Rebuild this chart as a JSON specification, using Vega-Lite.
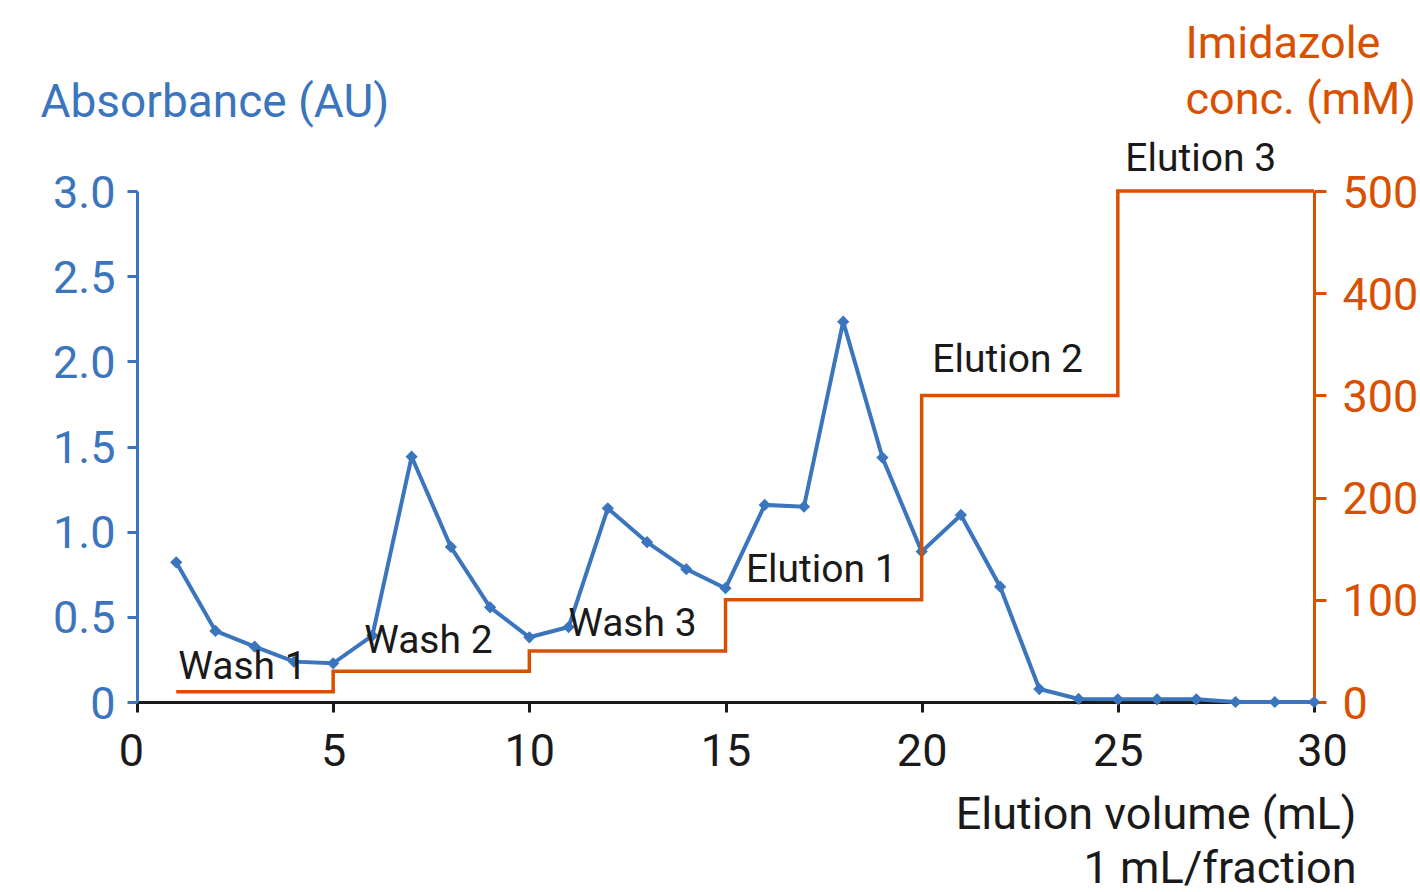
{
  "$schema": "https://vega.github.io/schema/vega-lite/v6.json",
  "width": 1177,
  "height": 511,
  "autosize": {"type": "none"},
  "padding": {"left": 137, "top": 191, "right": 106, "bottom": 190},
  "background": "white",
  "config": {
    "view": {"stroke": null},
    "font": "Roboto",
    "axis": {"grid": false, "labelFont": "Roboto", "titleFont": "Roboto", "titleFontWeight": "normal"}
  },
  "layer": [
    {
      "data": {"values": [
        {"vol": 1, "abs": 0.82}, {"vol": 2, "abs": 0.417}, {"vol": 3, "abs": 0.325},
        {"vol": 4, "abs": 0.237}, {"vol": 5, "abs": 0.227}, {"vol": 6, "abs": 0.39},
        {"vol": 7, "abs": 1.44}, {"vol": 8, "abs": 0.91}, {"vol": 9, "abs": 0.556},
        {"vol": 10, "abs": 0.38}, {"vol": 11, "abs": 0.44}, {"vol": 12, "abs": 1.137},
        {"vol": 13, "abs": 0.938}, {"vol": 14, "abs": 0.78}, {"vol": 15, "abs": 0.668},
        {"vol": 16, "abs": 1.157}, {"vol": 17, "abs": 1.147}, {"vol": 18, "abs": 2.233},
        {"vol": 19, "abs": 1.435}, {"vol": 20, "abs": 0.883}, {"vol": 21, "abs": 1.098},
        {"vol": 22, "abs": 0.677}, {"vol": 23, "abs": 0.076}, {"vol": 24, "abs": 0.018},
        {"vol": 25, "abs": 0.016}, {"vol": 26, "abs": 0.016}, {"vol": 27, "abs": 0.016},
        {"vol": 28, "abs": 0.0}, {"vol": 29, "abs": 0.0}, {"vol": 30, "abs": 0.0}
      ]},
      "mark": {"type": "line", "color": "#3b75bd", "strokeWidth": 4,
               "point": {"shape": "diamond", "size": 150, "filled": true, "color": "#3b75bd"}},
      "encoding": {
        "x": {
          "field": "vol", "type": "quantitative",
          "scale": {"domain": [0, 30], "nice": false, "zero": false},
          "axis": {
            "values": [0, 5, 10, 15, 20, 25, 30],
            "title": ["Elution volume (mL)", "1 mL/fraction"],
            "titleX": 1219, "titleY": 126, "titleAlign": "right", "titleAnchor": null,
            "titleBaseline": "alphabetic", "titleLineHeight": 54,
            "titleFontSize": 45, "titleColor": "#1a1a1a",
            "labelFontSize": 45, "labelColor": "#1a1a1a", "labelFlush": false,
            "labelOffset": {"condition": [{"test": "datum.value == 0", "value": -6}, {"test": "datum.value == 30", "value": 8}], "value": 0},
            "labelBaseline": "alphabetic", "labelPadding": 53,
            "domainColor": "#1a1a1a", "domainWidth": 3,
            "tickColor": "#1a1a1a", "tickWidth": 3, "tickSize": 10
          }
        },
        "y": {
          "field": "abs", "type": "quantitative",
          "scale": {"domain": [0, 3], "nice": false},
          "axis": {
            "orient": "left",
            "values": [0, 0.5, 1, 1.5, 2, 2.5, 3],
            "labelExpr": "datum.value == 0 ? '0' : format(datum.value, '.1f')",
            "title": "Absorbance (AU)",
            "titleAngle": 0, "titleX": -97, "titleY": -75, "titleAlign": "left",
            "titleAnchor": null, "titleBaseline": "alphabetic",
            "titleFontSize": 46, "titleColor": "#3b75bd",
            "labelFontSize": 45, "labelColor": "#3b75bd",
            "labelBaseline": "alphabetic", "labelOffset": 16, "labelPadding": 12,
            "domainColor": "#3b75bd", "domainWidth": 3,
            "tickColor": "#3b75bd", "tickWidth": 3, "tickSize": 10
          }
        }
      }
    },
    {
      "data": {"values": [
        {"vol": 1, "imid": 10}, {"vol": 5, "imid": 30}, {"vol": 10, "imid": 50},
        {"vol": 15, "imid": 100}, {"vol": 20, "imid": 300}, {"vol": 25, "imid": 500},
        {"vol": 30, "imid": 500}
      ]},
      "mark": {"type": "line", "interpolate": "step-after", "color": "#d95000", "strokeWidth": 3.5},
      "encoding": {
        "x": {"field": "vol", "type": "quantitative"},
        "y": {
          "field": "imid", "type": "quantitative",
          "scale": {"domain": [0, 500], "nice": false},
          "axis": {
            "orient": "right",
            "values": [0, 100, 200, 300, 400, 500],
            "title": ["Imidazole", "conc. (mM)"],
            "titleAngle": 0, "titleX": -129, "titleY": -134, "titleAlign": "left",
            "titleAnchor": null, "titleBaseline": "alphabetic", "titleLineHeight": 56,
            "titleFontSize": 45, "titleColor": "#d95000",
            "labelFontSize": 45, "labelColor": "#d95000",
            "labelBaseline": "alphabetic", "labelOffset": 16, "labelPadding": 16,
            "domainColor": "#d95000", "domainWidth": 3,
            "tickColor": "#d95000", "tickWidth": 3, "tickSize": 12
          }
        }
      }
    },
    {
      "data": {"values": [
        {"vol": 1.05, "pos": 0.135, "label": "Wash 1"},
        {"vol": 5.79, "pos": 0.29, "label": "Wash 2"},
        {"vol": 10.99, "pos": 0.39, "label": "Wash 3"},
        {"vol": 15.52, "pos": 0.705, "label": "Elution 1"},
        {"vol": 20.27, "pos": 1.94, "label": "Elution 2"},
        {"vol": 25.19, "pos": 3.12, "label": "Elution 3"}
      ]},
      "mark": {"type": "text", "align": "left", "baseline": "alphabetic", "fontSize": 39, "color": "#1a1a1a", "font": "Roboto"},
      "encoding": {
        "x": {"field": "vol", "type": "quantitative"},
        "y": {"field": "pos", "type": "quantitative", "scale": {"domain": [0, 3], "nice": false}, "axis": null},
        "text": {"field": "label"}
      }
    }
  ],
  "resolve": {"scale": {"y": "independent"}}
}
